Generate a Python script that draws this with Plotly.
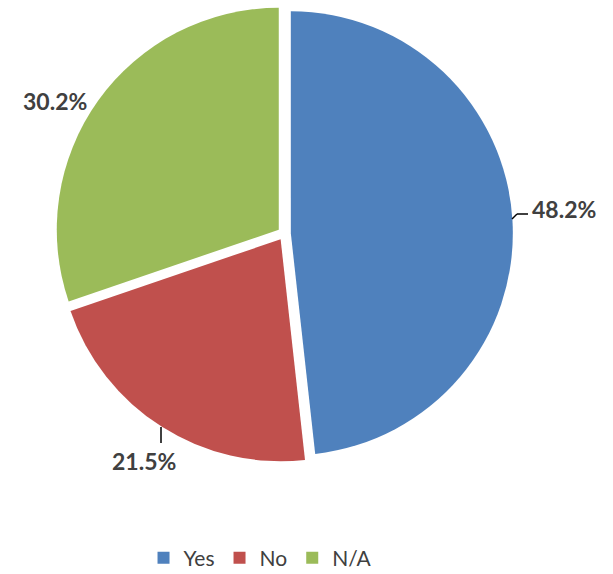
import plotly.graph_objects as go

# Survey answers and their shares (percent)
labels = ["Yes", "No", "N/A"]
shares = [48.2, 21.5, 30.2]
colors = ["#4F81BD", "#C0504D", "#9BBB59"]

W, H = 613, 574


def px(x):
    return x / W


def py(y):
    return 1 - y / H


fig = go.Figure(
    go.Pie(
        labels=labels,
        values=shares,
        sort=False,
        direction="clockwise",
        rotation=0,
        pull=0.03,
        marker=dict(colors=colors, line=dict(width=0)),
        textinfo="none",
        hoverinfo="label+value",
        domain=dict(x=[0.0906, 0.8366], y=[0.1946, 0.9914]),
    )
)

# Outside percentage labels, text taken from the share values
label_pos = [(564, 209), (143.5, 461), (55, 101)]
for v, (x, y) in zip(shares, label_pos):
    fig.add_annotation(
        x=px(x), y=py(y), xref="paper", yref="paper",
        text=f"{v:.1f}%", showarrow=False,
        xanchor="center", yanchor="middle",
        font=dict(family="Lato", size=23, color="#404040", weight="bold"),
    )

# Leader lines
leader_segments = [
    ((512, 219), (517, 214)),
    ((517, 214), (528, 214)),
    ((161, 427), (161, 443)),
]
for (x0, y0), (x1, y1) in leader_segments:
    fig.add_shape(
        type="line", xref="paper", yref="paper",
        x0=px(x0), y0=py(y0), x1=px(x1), y1=py(y1),
        line=dict(color="#000000", width=1.5),
    )

fig.update_layout(
    width=W,
    height=H,
    margin=dict(l=0, r=0, t=0, b=0, autoexpand=False),
    paper_bgcolor="white",
    plot_bgcolor="white",
    showlegend=True,
    legend=dict(
        orientation="h",
        x=0.425, xanchor="center",
        y=py(558), yanchor="middle",
        font=dict(family="Lato", size=21, color="#404040"),
        itemwidth=30,
    ),
)

fig.write_html("out.html")
